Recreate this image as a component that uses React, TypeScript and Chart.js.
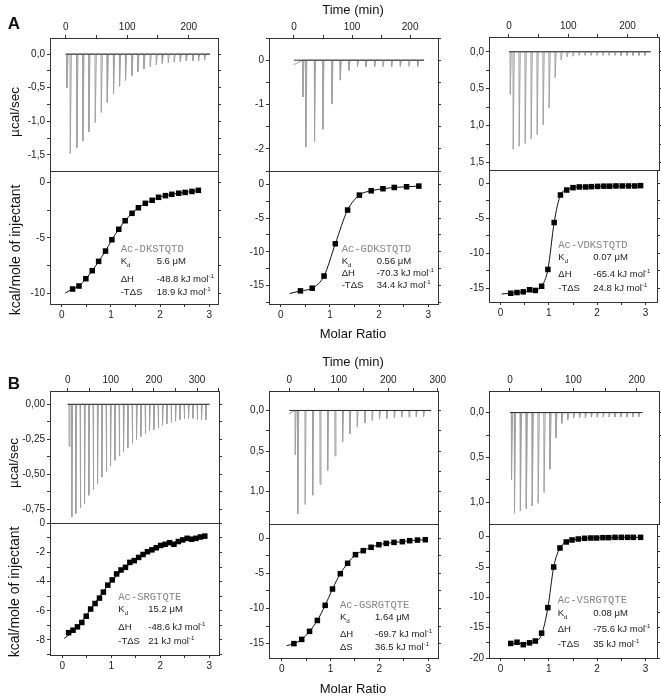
import React, { useEffect, useRef } from "react";
import { Chart, registerables } from "chart.js";

Chart.register(...registerables);

const FONT = "'Liberation Sans', Arial, Helvetica, sans-serif";
const MONO = "'Liberation Mono', 'Courier New', monospace";

// ---------------- Panel A, column 1 : Ac-DKSTQTD ----------------
const A1_injTime = [1.6, 7, 17.8, 27.6, 37.3, 47.6, 57.4, 67.2, 77.4, 87.2, 96.9, 107.3, 117, 126.8, 137, 146.8, 156.6, 166.3, 176, 185.9, 195.6, 206.4, 215.6, 225.4];
const A1_peak = [-0.5, -1.48, -1.39, -1.29, -1.16, -1.02, -0.87, -0.72, -0.59, -0.48, -0.39, -0.32, -0.26, -0.22, -0.19, -0.16, -0.14, -0.13, -0.12, -0.11, -0.1, -0.1, -0.1, -0.09];
const A1_traceEnd = 234.6;
const A1_ratio = [0.22, 0.35, 0.49, 0.62, 0.75, 0.89, 1.02, 1.16, 1.29, 1.43, 1.56, 1.7, 1.84, 1.97, 2.11, 2.24, 2.38, 2.51, 2.65, 2.78];
const A1_heat = [-9.61, -9.34, -8.68, -7.96, -7.12, -6.19, -5.17, -4.23, -3.46, -2.79, -2.29, -1.89, -1.62, -1.35, -1.2, -1.08, -0.98, -0.91, -0.82, -0.72];
const A1_fitRatio = [0.07, ...A1_ratio];
const A1_fitHeat = [-9.97, ...A1_heat];

// ---------------- Panel A, column 2 : Ac-GDKSTQTD ----------------
const A2_injTime = [15, 20, 35, 49.5, 65, 79.3, 94.3, 109, 123.6, 138.5, 152.9, 167.8, 182.8, 197.7, 212.6];
const A2_peak = [-0.83, -1.96, -1.84, -1.56, -0.99, -0.45, -0.23, -0.15, -0.15, -0.15, -0.15, -0.15, -0.14, -0.14, -0.14];
const A2_traceStart = -0.1;
const A2_traceEnd = 224;
const A2_ratio = [0.4, 0.64, 0.88, 1.11, 1.36, 1.6, 1.84, 2.08, 2.31, 2.56, 2.81];
const A2_heat = [-15.8, -15.4, -13.6, -8.8, -3.8, -1.58, -0.94, -0.63, -0.44, -0.34, -0.24];
const A2_fitRatio = [0.18, ...A2_ratio];
const A2_fitHeat = [-16.2, ...A2_heat];

// ---------------- Panel A, column 3 : Ac-VDKSTQTD ----------------
const A3_injTime = [1.7, 6.7, 16.8, 26.9, 37, 47.1, 57.2, 67.3, 77.4, 87.5, 97.6, 107.7, 117.8, 127.9, 138, 148.1, 158.2, 168.3, 178.4, 188.5, 198.6, 208.7, 218.8, 228.9];
const A3_peak = [0.58, 1.32, 1.28, 1.24, 1.18, 1.12, 0.99, 0.76, 0.35, 0.11, 0.07, 0.06, 0.05, 0.05, 0.05, 0.05, 0.05, 0.05, 0.05, 0.05, 0.05, 0.05, 0.05, 0.05];
const A3_traceEnd = 239;
const A3_ratio = [0.21, 0.34, 0.47, 0.6, 0.72, 0.85, 0.98, 1.11, 1.24, 1.37, 1.5, 1.63, 1.76, 1.88, 2.01, 2.14, 2.26, 2.39, 2.52, 2.65, 2.78, 2.9];
const A3_heat = [-15.7, -15.6, -15.5, -15.2, -15.3, -14.7, -12.3, -5.6, -1.67, -0.96, -0.62, -0.52, -0.52, -0.48, -0.44, -0.41, -0.41, -0.38, -0.38, -0.38, -0.38, -0.33];
const A3_fitRatio = [0.02, 0.21, 0.47, 0.72, 0.85, 0.98, 1.11, 1.24, 1.37, 1.5, 1.76, 2.14, 2.52, 2.9];
const A3_fitHeat = [-15.8, -15.7, -15.5, -15.25, -14.7, -12.3, -5.6, -1.67, -0.96, -0.62, -0.5, -0.42, -0.38, -0.33];

// ---------------- Panel B, column 1 : Ac-SRGTQTE ----------------
const B1_injTime = [3, 9.3, 18.6, 28.65, 38.7, 48.75, 58.8, 68.85, 78.9, 88.95, 99, 109.05, 119.1, 129.15, 139.2, 149.25, 159.3, 169.35, 179.4, 189.45, 199.5, 209.55, 219.6, 229.65, 239.7, 249.75, 259.8, 269.85, 279.9, 289.95, 300, 310.05, 320.1];
const B1_peak = [-0.3, -0.805, -0.78, -0.74, -0.71, -0.65, -0.61, -0.57, -0.52, -0.48, -0.44, -0.4, -0.37, -0.34, -0.31, -0.28, -0.25, -0.23, -0.21, -0.19, -0.18, -0.17, -0.15, -0.14, -0.13, -0.12, -0.11, -0.105, -0.1, -0.1, -0.11, -0.11, -0.11];
const B1_traceEnd = 329;
const B1_ratio = [0.13, 0.22, 0.31, 0.4, 0.49, 0.58, 0.67, 0.76, 0.84, 0.93, 1.02, 1.11, 1.2, 1.29, 1.38, 1.47, 1.56, 1.65, 1.74, 1.83, 1.92, 2.01, 2.1, 2.19, 2.28, 2.37, 2.46, 2.55, 2.64, 2.73, 2.82, 2.91];
const B1_heat = [-7.5, -7.33, -7.1, -6.8, -6.37, -5.88, -5.5, -5.13, -4.72, -4.24, -3.88, -3.47, -3.2, -3.02, -2.68, -2.56, -2.34, -2.14, -1.95, -1.82, -1.68, -1.52, -1.44, -1.33, -1.44, -1.25, -1.14, -1.03, -1.09, -1.03, -0.94, -0.88];
const B1_fitRatio = [0.04, 0.3, 0.6, 0.9, 1.2, 1.5, 1.8, 2.1, 2.4, 2.7, 2.91];
const B1_fitHeat = [-7.9, -7.15, -5.8, -4.4, -3.3, -2.5, -1.92, -1.5, -1.2, -1.0, -0.88];

// ---------------- Panel B, column 2 : Ac-GSRGTQTE ----------------
const B2_injTime = [11.5, 16.8, 31.6, 47, 61.8, 77.2, 92, 107.4, 122.1, 136.8, 152.3, 167, 181.9, 196.6, 212, 226.8, 241.5, 256.3, 271];
const B2_peak = [0.55, 1.275, 1.16, 1.045, 0.91, 0.74, 0.56, 0.39, 0.29, 0.205, 0.155, 0.127, 0.106, 0.098, 0.09, 0.08, 0.08, 0.075, 0.075];
const B2_traceStart = 0.04;
const B2_traceEnd = 286.5;
const B2_ratio = [0.25, 0.41, 0.57, 0.73, 0.89, 1.04, 1.2, 1.35, 1.51, 1.67, 1.83, 1.99, 2.14, 2.3, 2.47, 2.62, 2.78, 2.94];
const B2_heat = [-15.0, -14.4, -13.25, -11.7, -9.55, -7.22, -5.04, -3.56, -2.33, -1.76, -1.28, -0.91, -0.72, -0.58, -0.48, -0.34, -0.25, -0.2];
const B2_fitRatio = [0.1, ...B2_ratio];
const B2_fitHeat = [-15.3, ...B2_heat];

// ---------------- Panel B, column 3 : Ac-VSRGTQTE ----------------
const B3_injTime = [2.1, 6.8, 16.1, 25.4, 34.8, 44.1, 53.4, 62.7, 72, 81.4, 90.7, 100, 109.3, 118.6, 128, 137.3, 146.6, 155.9, 165.2, 174.6, 183.9, 193.2, 202.5];
const B3_peak = [0.75, 1.12, 1.09, 1.07, 1.04, 1.01, 0.89, 0.63, 0.28, 0.12, 0.08, 0.06, 0.06, 0.06, 0.05, 0.05, 0.05, 0.05, 0.05, 0.05, 0.05, 0.05, 0.05];
const B3_traceEnd = 209;
const B3_ratio = [0.21, 0.34, 0.47, 0.6, 0.72, 0.85, 0.98, 1.1, 1.23, 1.36, 1.48, 1.61, 1.74, 1.87, 1.99, 2.12, 2.24, 2.37, 2.5, 2.63, 2.75, 2.9];
const B3_heat = [-17.6, -17.4, -17.8, -17.5, -17.2, -15.9, -11.7, -5.0, -1.86, -0.87, -0.54, -0.38, -0.27, -0.22, -0.22, -0.16, -0.16, -0.11, -0.11, -0.11, -0.11, -0.11];
const B3_fitRatio = [0.2, 0.46, 0.72, 0.85, 0.98, 1.1, 1.23, 1.36, 1.48, 1.74, 2.12, 2.5, 2.9];
const B3_fitHeat = [-17.65, -17.6, -17.3, -16.1, -11.7, -5.0, -1.86, -0.87, -0.54, -0.27, -0.16, -0.11, -0.11];

// ---------------- annotation texts ----------------
const PEPTIDES = ["Ac-DKSTQTD", "Ac-GDKSTQTD", "Ac-VDKSTQTD", "Ac-SRGTQTE", "Ac-GSRGTQTE", "Ac-VSRGTQTE"];
const KD_UM = ["5.6", "0.56", "0.07", "15.2", "1.64", "0.08"];
const DH_KJ = ["-48.8", "-70.3", "-65.4", "-48.6", "-69.7", "-75.6"];
const TS_KJ = ["18.9", "34.4", "24.8", "21", "36.5", "35"];
const TS_LABEL = ["-TΔS", "-TΔS", "-TΔS", "-TΔS", "ΔS", "-TΔS"];

// ---------------- helpers ----------------
const fmtComma = (d: number) => (v: number) => v.toFixed(d).replace(".", ",");
const fmtInt = (v: number) => String(Math.round(v) === 0 ? 0 : Math.round(v));
const isMajor = (v: number, major: number) => Math.abs(v / major - Math.round(v / major)) < 1e-6;

function tickList(min: number, max: number, step: number) {
  const out: number[] = [];
  for (let k = Math.ceil(min / step - 1e-9); k * step <= max + 1e-9; k++) out.push(Math.round(k * step * 1e6) / 1e6);
  return out;
}

function axisOpts(pos: string, min: number, max: number, step: number, major: number, fmt: (v: number) => string, size: number, o: { labels?: boolean; ticks?: boolean; reverse?: boolean }) {
  return {
    type: "linear",
    position: pos,
    min,
    max,
    reverse: !!o.reverse,
    afterBuildTicks: (scale: any) => {
      scale.ticks = tickList(min, max, step).map((v) => ({ value: v }));
    },
    afterFit: (scale: any) => {
      if (scale.isHorizontal()) scale.height = size;
      else scale.width = size;
      scale.paddingLeft = 0;
      scale.paddingRight = 0;
      scale.paddingTop = 0;
      scale.paddingBottom = 0;
    },
    ticks: {
      display: true,
      autoSkip: false,
      maxRotation: 0,
      minRotation: 0,
      padding: 2,
      font: { family: FONT, size: 10 },
      color: "#222",
      callback: (v: any) => (o.labels && isMajor(Number(v), major) ? fmt(Number(v)) : ""),
    },
    grid: { display: o.ticks !== false, drawOnChartArea: false, drawTicks: true, tickLength: 3, color: "#333", lineWidth: 1 },
    border: { display: true, color: "#333", width: 1 },
  };
}

type Panel = {
  kind: "thermo" | "iso";
  frame: [number, number, number, number];
  x: [number, number];
  y: [number, number];
  yStep: number;
  yMajor: number;
  yFmt: (v: number) => string;
  reverse?: boolean;
  inj?: number[];
  peak?: number[];
  start?: number;
  end?: number;
  ratio?: number[];
  heat?: number[];
  fitX?: number[];
  fitY?: number[];
};

const PANELS: Panel[] = [
  { kind: "thermo", frame: [50, 38, 218, 171], x: [-25.5, 247.6], y: [-1.74, 0.24], yStep: 0.25, yMajor: 0.5, yFmt: fmtComma(1), inj: A1_injTime, peak: A1_peak, start: 0, end: A1_traceEnd },
  { kind: "iso", frame: [50, 171, 218, 304], x: [-0.24, 3.18], y: [-10.96, 1.02], yStep: 2.5, yMajor: 5, yFmt: fmtInt, ratio: A1_ratio, heat: A1_heat, fitX: A1_fitRatio, fitY: A1_fitHeat },
  { kind: "thermo", frame: [269, 38, 438, 171], x: [-43, 248], y: [-2.5, 0.5], yStep: 0.5, yMajor: 1, yFmt: fmtInt, inj: A2_injTime, peak: A2_peak, start: A2_traceStart, end: A2_traceEnd },
  { kind: "iso", frame: [269, 171, 438, 304], x: [-0.24, 3.2], y: [-17.75, 2], yStep: 2.5, yMajor: 5, yFmt: fmtInt, ratio: A2_ratio, heat: A2_heat, fitX: A2_fitRatio, fitY: A2_fitHeat },
  { kind: "thermo", frame: [489, 37, 659, 170], x: [-33.7, 253], y: [-0.2, 1.6], yStep: 0.25, yMajor: 0.5, yFmt: fmtComma(1), reverse: true, inj: A3_injTime, peak: A3_peak, start: 0, end: A3_traceEnd },
  { kind: "iso", frame: [489, 170, 659, 302], x: [-0.24, 3.24], y: [-16.95, 1.9], yStep: 2.5, yMajor: 5, yFmt: fmtInt, ratio: A3_ratio, heat: A3_heat, fitX: A3_fitRatio, fitY: A3_fitHeat },
  { kind: "thermo", frame: [50, 391, 219, 523], x: [-41, 351], y: [-0.848, 0.095], yStep: 0.125, yMajor: 0.25, yFmt: fmtComma(2), inj: B1_injTime, peak: B1_peak, start: 0, end: B1_traceEnd },
  { kind: "iso", frame: [50, 523, 219, 655], x: [-0.25, 3.2], y: [-9.03, 0.02], yStep: 1, yMajor: 2, yFmt: fmtInt, ratio: B1_ratio, heat: B1_heat, fitX: B1_fitRatio, fitY: B1_fitHeat },
  { kind: "thermo", frame: [269, 391, 438, 524], x: [-41, 300.5], y: [-0.24, 1.4], yStep: 0.25, yMajor: 0.5, yFmt: fmtComma(1), reverse: true, inj: B2_injTime, peak: B2_peak, start: B2_traceStart, end: B2_traceEnd },
  { kind: "iso", frame: [269, 524, 438, 658], x: [-0.26, 3.2], y: [-17.05, 2.04], yStep: 2.5, yMajor: 5, yFmt: fmtInt, ratio: B2_ratio, heat: B2_heat, fitX: B2_fitRatio, fitY: B2_fitHeat },
  { kind: "thermo", frame: [489, 391, 659, 524], x: [-33, 235], y: [-0.24, 1.24], yStep: 0.25, yMajor: 0.5, yFmt: fmtComma(1), reverse: true, inj: B3_injTime, peak: B3_peak, start: 0, end: B3_traceEnd },
  { kind: "iso", frame: [489, 524, 659, 658], x: [-0.24, 3.24], y: [-20, 2.09], yStep: 2.5, yMajor: 5, yFmt: fmtInt, ratio: B3_ratio, heat: B3_heat, fitX: B3_fitRatio, fitY: B3_fitHeat },
];

function geom(p: Panel) {
  const [fl, ft, fr, fb] = p.frame;
  const L = 50;
  const R = fr > 600 ? 661 - fr : 14;
  const T = p.kind === "thermo" ? 30 : 10;
  const B = p.kind === "thermo" ? 10 : 24;
  return { L, R, T, B, left: fl - L, top: ft - T, w: fr - fl + L + R, h: fb - ft + T + B };
}

function tracePoints(inj: number[], peak: number[], start: number, end: number) {
  const pts: { x: number; y: number }[] = [{ x: 0, y: start }];
  inj.forEach((t, i) => {
    pts.push({ x: t, y: 0 }, { x: t + 0.4, y: peak[i] }, { x: t + 2.2, y: 0 });
  });
  pts.push({ x: end, y: 0 });
  return pts;
}

const common = {
  animation: false,
  responsive: false,
  devicePixelRatio: 1,
  events: [] as any[],
  layout: { padding: 0 },
  plugins: { legend: { display: false }, tooltip: { enabled: false }, title: { display: false } },
};

function build(canvas: HTMLCanvasElement, p: Panel) {
  const g = geom(p);
  const none = (v: number) => "";
  if (p.kind === "thermo") {
    const trace = tracePoints(p.inj!, p.peak!, p.start || 0, p.end!);
    return new Chart(canvas, {
      type: "line",
      data: {
        datasets: [
          { data: [{ x: 0, y: 0 }, { x: p.end!, y: 0 }], borderColor: "#2b2b2b", borderWidth: 1, pointRadius: 0, xAxisID: "x", yAxisID: "y" },
          { data: trace, borderColor: "#a0a0a0", borderWidth: 1, pointRadius: 0, xAxisID: "x", yAxisID: "y" },
        ],
      },
      options: {
        ...common,
        scales: {
          x: axisOpts("top", p.x[0], p.x[1], 50, 100, fmtInt, g.T, { labels: true }),
          x2: axisOpts("bottom", p.x[0], p.x[1], 50, 100, none, g.B, { labels: false, ticks: false }),
          y: axisOpts("left", p.y[0], p.y[1], p.yStep, p.yMajor, p.yFmt, g.L, { labels: true, reverse: p.reverse }),
          y2: axisOpts("right", p.y[0], p.y[1], p.yStep, p.yMajor, none, g.R, { labels: false, reverse: p.reverse }),
        },
      } as any,
    } as any);
  }
  const pts = p.ratio!.map((r, i) => ({ x: r, y: p.heat![i] }));
  const fit = p.fitX!.map((r, i) => ({ x: r, y: p.fitY![i] }));
  return new Chart(canvas, {
    type: "line",
    data: {
      datasets: [
        { data: pts, showLine: false, pointStyle: "rect", pointRadius: 3.9, pointBackgroundColor: "#000", pointBorderColor: "#000", pointBorderWidth: 0, xAxisID: "x", yAxisID: "y" },
        { data: fit, borderColor: "#111", borderWidth: 1, pointRadius: 0, cubicInterpolationMode: "monotone", xAxisID: "x", yAxisID: "y" },
      ],
    },
    options: {
      ...common,
      scales: {
        x: axisOpts("bottom", p.x[0], p.x[1], 0.5, 1, fmtInt, g.B, { labels: true }),
        x2: axisOpts("top", p.x[0], p.x[1], 0.5, 1, none, g.T, { labels: false, ticks: false }),
        y: axisOpts("left", p.y[0], p.y[1], p.yStep, p.yMajor, p.yFmt, g.L, { labels: true }),
        y2: axisOpts("right", p.y[0], p.y[1], p.yStep, p.yMajor, none, g.R, { labels: false }),
      },
    } as any,
  } as any);
}

// annotation layout: label x, value x, line centres
const ANN_POS = [
  { lx: 120.7, vx: 156.7, ys: [248.7, 261, 279.3, 292] },
  { lx: 341.7, vx: 376.7, ys: [249, 261, 273.3, 285] },
  { lx: 558.3, vx: 593.3, ys: [245, 257.3, 274, 288.3] },
  { lx: 118.3, vx: 148.3, ys: [597.3, 609.3, 626.7, 640.7] },
  { lx: 340, vx: 375, ys: [604.7, 617.3, 634, 647.3] },
  { lx: 557.7, vx: 593.3, ys: [600, 612.7, 629.3, 644] },
];

const abs = (x: number, y: number, extra: any = {}): React.CSSProperties => ({
  position: "absolute",
  left: x,
  top: y,
  transform: "translate(0,-50%)",
  whiteSpace: "nowrap",
  lineHeight: 1,
  ...extra,
});

function Annotation({ i }: { i: number }) {
  const a = ANN_POS[i];
  const txt = { fontFamily: FONT, fontSize: 9.5, color: "#222" };
  const sup = { fontSize: "65%", verticalAlign: "super", lineHeight: 0 } as React.CSSProperties;
  return (
    <>
      <div style={abs(a.lx, a.ys[0], { fontFamily: MONO, fontSize: 10.5, color: "#858585" })}>{PEPTIDES[i]}</div>
      <div style={abs(a.lx, a.ys[1], txt)}>
        K<span style={{ fontSize: "65%", verticalAlign: "sub", lineHeight: 0 }}>d</span>
      </div>
      <div style={abs(a.vx, a.ys[1], txt)}>{KD_UM[i]} μM</div>
      <div style={abs(a.lx, a.ys[2], txt)}>ΔH</div>
      <div style={abs(a.vx, a.ys[2], txt)}>
        {DH_KJ[i]} kJ mol<span style={sup}>-1</span>
      </div>
      <div style={abs(a.lx, a.ys[3], txt)}>{TS_LABEL[i]}</div>
      <div style={abs(a.vx, a.ys[3], txt)}>
        {TS_KJ[i]} kJ mol<span style={sup}>-1</span>
      </div>
    </>
  );
}

const center = (x: number, y: number, size: number, extra: any = {}): React.CSSProperties => ({
  position: "absolute",
  left: x,
  top: y,
  transform: "translate(-50%,-50%)",
  whiteSpace: "nowrap",
  lineHeight: 1,
  fontFamily: FONT,
  fontSize: size,
  color: "#111",
  ...extra,
});

export default function App() {
  const refs = useRef<(HTMLCanvasElement | null)[]>([]);
  useEffect(() => {
    const charts = PANELS.map((p, i) => build(refs.current[i]!, p));
    return () => charts.forEach((c) => c.destroy());
  }, []);
  return (
    <div style={{ position: "absolute", left: 0, top: 0, width: 661, height: 696, background: "#fff", overflow: "hidden" }}>
      {PANELS.map((p, i) => {
        const g = geom(p);
        return (
          <canvas
            key={i}
            ref={(el) => {
              refs.current[i] = el;
            }}
            width={g.w}
            height={g.h}
            style={{ position: "absolute", left: g.left, top: g.top, width: g.w, height: g.h }}
          />
        );
      })}
      <div style={center(14, 23, 17, { fontWeight: 700 })}>A</div>
      <div style={center(14, 383, 17, { fontWeight: 700 })}>B</div>
      <div style={center(353, 8.5, 13)}>Time (min)</div>
      <div style={center(353, 361, 13)}>Time (min)</div>
      <div style={center(353, 333, 13)}>Molar Ratio</div>
      <div style={center(353, 688, 13)}>Molar Ratio</div>
      <div style={center(15, 112, 13.5, { transform: "translate(-50%,-50%) rotate(-90deg)" })}>µcal/sec</div>
      <div style={center(15, 250, 14, { transform: "translate(-50%,-50%) rotate(-90deg)" })}>kcal/mole of injectant</div>
      <div style={center(14, 463, 13.5, { transform: "translate(-50%,-50%) rotate(-90deg)" })}>µcal/sec</div>
      <div style={center(14, 592, 14, { transform: "translate(-50%,-50%) rotate(-90deg)" })}>kcal/mole of injectant</div>
      {[0, 1, 2, 3, 4, 5].map((i) => (
        <Annotation key={i} i={i} />
      ))}
    </div>
  );
}
